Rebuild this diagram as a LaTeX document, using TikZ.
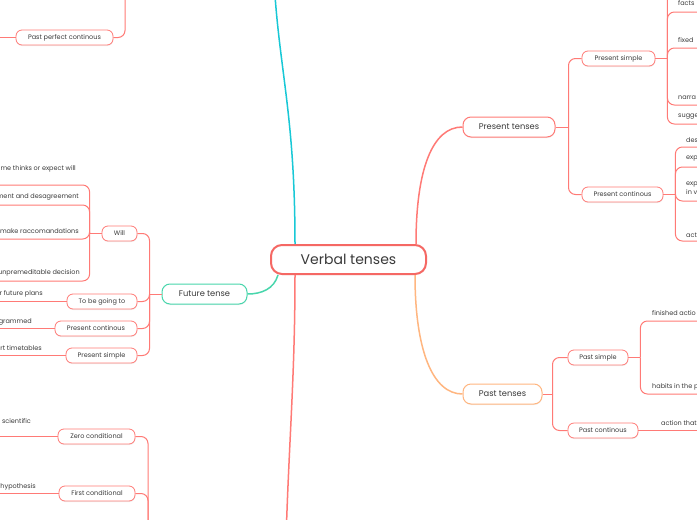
\documentclass[tikz,border=0pt]{standalone}
\usepackage{fontspec}
\setmainfont{Poppins}
\usepackage{tikz}
\usetikzlibrary{shadows}
\definecolor{rootred}{RGB}{245,104,100}
\definecolor{linkred}{RGB}{255,122,118}
\definecolor{futgreen}{RGB}{72,214,172}
\definecolor{pastorange}{RGB}{255,182,128}
\definecolor{topcyan}{RGB}{24,200,214}
\definecolor{inktext}{RGB}{58,58,58}
\tikzset{
  every node/.append style={font=\fontsize{6.5}{9}\selectfont, text=inktext},
  topic/.style={draw=linkred, fill=white, line width=0.8pt, rounded corners=6pt, inner sep=0pt,
    minimum height=15pt, drop shadow={shadow xshift=0.3pt, shadow yshift=-1pt, opacity=0.12}},
  maintopic/.style={topic, line width=1pt, rounded corners=8pt, minimum height=20pt, font=\fontsize{8.3}{10}\selectfont},
  leaftext/.style={inner sep=0pt, align=left},
  link/.style={linkred, line width=1pt, rounded corners=7pt},
  mainlink/.style={line width=1.5pt},
}

\begin{document}
\begin{tikzpicture}[x=1pt, y=-1pt]
    \useasboundingbox (0,0) rectangle (697,520);
    \fill[white] (0,0) rectangle (697,520);
    \clip (0,0) rectangle (697,520);

    \node[topic, draw=rootred, line width=2pt, rounded corners=11pt, minimum width=155pt, minimum height=29pt,
      font=\fontsize{14}{16}\selectfont] (root) at (348.5,259.5) {Verbal tenses};

    \node[maintopic, minimum width=92pt] (pres) at (509,127) {Present tenses};
    \node[maintopic, draw=pastorange, minimum width=79pt] (past) at (502.5,394) {Past tenses};
    \node[maintopic, draw=futgreen, minimum width=85pt] (fut) at (204.5,294) {Future tense};

    \node[topic, minimum width=73pt] (psimp) at (618.5,58.5) {Present simple};
    \node[topic, minimum width=81pt] (pcont) at (622.5,194.5) {Present continous};
    \node[topic, minimum width=60pt] (pasts) at (598,357.5) {Past simple};
    \node[topic, minimum width=70pt] (pastc) at (603,430.5) {Past continous};
    \node[topic, minimum width=35pt] (will) at (119.5,233.5) {Will};
    \node[topic, minimum width=70pt] (going) at (102,301.5) {To be going to};
    \node[topic, minimum width=82pt] (fcont) at (96,328.5) {Present continous};
    \node[topic, minimum width=71pt] (fsimp) at (101.5,355.5) {Present simple};
    \node[topic, minimum width=97pt] (ppc) at (64.5,37.5) {Past perfect continous};
    \node[topic, minimum width=77pt] (zero) at (96.5,436.5) {Zero conditional};
    \node[topic, minimum width=76pt] (first) at (97,493.5) {First conditional};

    \coordinate (upend) at (274,-20);
    \coordinate (downend) at (286,540);
    \coordinate (ppcend) at (125,-30);
    \coordinate (condend) at (148,560);

    \draw[mainlink, topcyan] ([xshift=25pt]root.north west) .. controls +(0,-130) and +(5,90) .. (upend);
    \draw[mainlink, linkred] ([xshift=25pt]root.south west) .. controls +(0,100) and +(3,-100) .. (downend);
    \draw[mainlink, linkred] ([xshift=-11pt]root.north east) .. controls +(0,-75) and +(-30,0) .. (pres.west);
    \draw[mainlink, pastorange] ([xshift=-12pt]root.south east) .. controls +(0,75) and +(-30,0) .. (past.west);
    \draw[mainlink, futgreen] ([xshift=8pt]root.south west) .. controls +(-4,14) and +(14,0) .. (fut.east);

    \draw[link] (pres.east) -- ++(13,0) coordinate (pj);
    \foreach \c in {psimp, pcont}
        \draw[link] (\c.west) -| (pj);
    \draw[link] (past.east) -- ++(10,0) coordinate (aj);
    \foreach \c in {pasts, pastc}
        \draw[link] (\c.west) -| (aj);
    \draw[link] (fut.west) -- ++(-12,0) coordinate (fj);
    \foreach \c in {will, going, fcont, fsimp}
        \draw[link] (\c.east) -| (fj);
    \draw[link] (ppc.east) -| (ppcend);
    \foreach \c in {zero, first}
        \draw[link] (\c.east) -| (condend);

    \draw[link] (psimp.east) -- ++(12,0) coordinate (sj);
    \coordinate (sl0) at (720,-30);
    \draw[link] (sj) |- (sl0);
    \foreach \y/\ty/\lab [count=\i] in {12/3/facts, 48/40/fixed, 105/98/narra, 124/117/sugge} {
        \coordinate (sl\i) at (720,\y);
        \draw[link] (sj) |- (sl\i);
        \node[leaftext, anchor=west] (st\i) at (678,\ty) {\lab};
    }

    \draw[link] (pcont.east) -- ++(12,0) coordinate (cj);
    \foreach \y/\ty/\lab [count=\i] in {147/140/des, 167/159/exp, 201/188.5/{exp\\in v}, 241/235/acti} {
        \coordinate (cl\i) at (720,\y);
        \draw[link] (cj) |- (cl\i);
        \node[leaftext, anchor=west] (ct\i) at (686,\ty) {\lab};
    }

    \draw[link] (pasts.east) -- ++(12,0) coordinate (bj);
    \foreach \y/\ty/\lab [count=\i] in {321/313/finished actio, 394/387/habits in the p} {
        \coordinate (bl\i) at (720,\y);
        \draw[link] (bj) |- (bl\i);
        \node[leaftext, anchor=west] (bt\i) at (652,\ty) {\lab};
    }
    \coordinate (pcl) at (720,430.5);
    \draw[link] (pastc.east) -- (pcl);
    \node[leaftext, anchor=west] (pct) at (661,423) {action that};

    \draw[link] (will.west) -- ++(-12,0) coordinate (wj);
    \foreach \y/\ty/\x/\lab [count=\i] in {185/169/76/me thinks or expect will, 205/197/79/ment and desagreement,
        239/231/79/make raccomandations, 281/273/80/unpremeditable decision} {
        \coordinate (wl\i) at (-20,\y);
        \draw[link] (wj) |- (wl\i);
        \node[leaftext, anchor=east] (wt\i) at (\x,\ty) {\lab};
    }

    \foreach \c/\ty/\x/\lab in {going/294/43/r future plans, fcont/322/32/grammed, fsimp/348/42/rt timetables,
        zero/421/31/scientific, first/487/36/hypothesis} {
        \coordinate (\c end) at (-20,0);
        \draw[link] (\c.west) -- (\c.west -| \c end);
        \node[leaftext, anchor=east] (\c text) at (\x,\ty) {\lab};
    }
    \coordinate (ppcleft) at (-20,0);
    \draw[link] (ppc.west) -- (ppc.west -| ppcleft);
\end{tikzpicture}
\end{document}
